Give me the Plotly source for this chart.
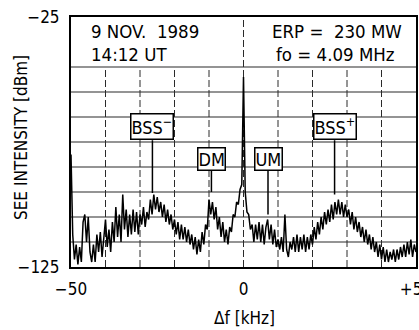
import numpy as np
import plotly.graph_objects as go

# Spectrum: SEE intensity (dBm) sampled every 0.5 kHz from -50 to +50 kHz
see_dbm = [
    -80, -112, -122, -116, -124, -117, -123, -107, -104, -115,   # -50.0 .. -45.5
    -105, -119, -123, -116, -123, -112, -119, -111, -121, -114,  # -45.0 .. -40.5
    -106, -117, -110, -119, -107, -115, -101, -113, -104, -115,  # -40.0 .. -35.5
    -96, -110, -102, -113, -104, -112, -102, -111, -103, -112,   # -35.0 .. -30.5
    -104, -108, -101, -109, -103, -106, -98, -104, -96, -102,    # -30.0 .. -25.5
    -97, -103, -99, -105, -100, -107, -102, -108, -104, -110,    # -25.0 .. -20.5
    -106, -112, -107, -114, -108, -114, -109, -115, -110, -116,  # -20.0 .. -15.5
    -112, -118, -113, -120, -114, -119, -111, -116, -108, -110,  # -15.0 .. -10.5
    -98, -104, -99, -106, -101, -110, -105, -113, -107, -115,    # -10.0 .. -5.5
    -110, -116, -109, -111, -104, -105, -99, -100, -94, -92,     # -5.0 .. -0.5
    -49, -95, -103, -104, -110, -108, -115, -108, -114, -107,    # 0.0 .. 4.5
    -115, -108, -116, -109, -106, -114, -108, -116, -110, -117,  # 5.0 .. 9.5
    -114, -118, -113, -119, -104, -118, -121, -115, -118, -113,  # 10.0 .. 14.5
    -119, -112, -119, -113, -118, -112, -119, -113, -118, -112,  # 15.0 .. 19.5
    -116, -109, -114, -107, -112, -105, -110, -103, -108, -102,  # 20.0 .. 24.5
    -107, -100, -106, -99, -104, -98, -104, -99, -105, -100,     # 25.0 .. 29.5
    -105, -102, -108, -103, -110, -105, -111, -107, -113, -109,  # 30.0 .. 34.5
    -115, -110, -116, -112, -118, -113, -119, -115, -121, -116,  # 35.0 .. 39.5
    -122, -117, -123, -118, -123, -119, -122, -118, -123, -118,  # 40.0 .. 44.5
    -122, -117, -121, -116, -121, -115, -120, -114, -121, -116,  # 45.0 .. 49.5
    -119,                                                        # 50.0
]
freq_step_khz = 0.5
freq_khz = [-50 + i * freq_step_khz for i in range(len(see_dbm))]

# Labelled spectral features
feature_labels = ["BSS<sup>−</sup>", "DM", "UM", "BSS<sup>+</sup>"]
feature_freqs = [-26.4, -9.3, 7.1, 26.4]
feature_line_bottom = [-95.4, -95.0, -104.0, -96.0]

x_tickvals = [-50, 0, 50]
x_ticktext = ["−50", "0", "+50"]
y_tickvals = [-125, -25]
y_ticktext = ["−125", "−25"]

FONT = "DejaVu Sans Condensed, DejaVu Sans, sans-serif"
NB = "\u00a0"

fig = go.Figure()
fig.add_trace(go.Scatter(x=freq_khz, y=see_dbm, mode="lines",
                         line=dict(color="black", width=1.5),
                         hoverinfo="skip", showlegend=False))

shapes = []
# horizontal grid lines (below the header block)
for yv in range(-115, -44, 10):
    shapes.append(dict(type="line", xref="x", yref="y", x0=-50, x1=50, y0=yv, y1=yv,
                       line=dict(color="#2a2a2a", width=1.2), layer="below"))
# vertical dashed grid lines
for xv in range(-40, 41, 10):
    top = -25 if xv == 0 else -45
    shapes.append(dict(type="line", xref="x", yref="y", x0=xv, x1=xv, y0=-125, y1=top,
                       line=dict(color="#2a2a2a", width=1, dash="7px,3px"), layer="below"))

annotations = []
box_bottoms = [-74.3, -86.5, -86.5, -74.3]
for lab, fx, yb, ytop in zip(feature_labels, feature_freqs, feature_line_bottom, box_bottoms):
    shapes.append(dict(type="line", xref="x", yref="y", x0=fx, x1=fx, y0=ytop, y1=yb,
                       line=dict(color="black", width=1.5), layer="above"))
    annotations.append(dict(x=fx, y=ytop, xref="x", yref="y", text=lab, showarrow=False,
                            xanchor="center", yanchor="bottom",
                            font=dict(family=FONT, size=18, color="black"),
                            bordercolor="black", borderwidth=1.5, borderpad=0,
                            bgcolor="white"))

def px(xp):
    return (xp - 71) / 345.0

def py(yp):
    return (267 - yp) / 250.0

hdr_font = dict(family=FONT, size=18.5, color="black")
annotations += [
    dict(x=px(89), y=py(31), xref="paper", yref="paper", text="9 NOV." + NB + " 1989",
         showarrow=False, xanchor="left", yanchor="middle", font=hdr_font),
    dict(x=px(89), y=py(54), xref="paper", yref="paper", text="14:12 UT",
         showarrow=False, xanchor="left", yanchor="middle", font=hdr_font),
    dict(x=px(404), y=py(31), xref="paper", yref="paper", text="ERP =" + NB + " 230 MW",
         showarrow=False, xanchor="right", yanchor="middle", font=hdr_font),
    dict(x=px(397), y=py(54), xref="paper", yref="paper", text="fo = 4.09 MHz",
         showarrow=False, xanchor="right", yanchor="middle", font=hdr_font),
    dict(x=px(244), y=py(318), xref="paper", yref="paper", text="Δf [kHz]",
         showarrow=False, xanchor="center", yanchor="middle",
         font=dict(family=FONT, size=17, color="black")),
    dict(x=px(21), y=py(138), xref="paper", yref="paper", text="SEE INTENSITY [dBm]",
         showarrow=False, xanchor="center", yanchor="middle", textangle=-90,
         font=dict(family=FONT, size=17, color="black")),
]

fig.update_layout(
    width=419, height=330,
    margin=dict(l=71, r=3, t=17, b=63, autoexpand=False),
    paper_bgcolor="white", plot_bgcolor="white",
    font=dict(family=FONT, size=16, color="black"),
    shapes=shapes, annotations=annotations,
    xaxis=dict(range=[-50, 50], tickvals=x_tickvals, ticktext=x_ticktext,
               showgrid=False, zeroline=False, showline=True, mirror=True,
               linecolor="black", linewidth=2, ticks="", ticklabelstandoff=6,
               ticklabeloverflow="allow", automargin=False,
               tickfont=dict(family=FONT, size=17, color="black")),
    yaxis=dict(range=[-125, -25], tickvals=y_tickvals, ticktext=y_ticktext,
               showgrid=False, zeroline=False, showline=True, mirror=True,
               linecolor="black", linewidth=2, ticks="", ticklabelstandoff=6,
               ticklabeloverflow="allow", automargin=False,
               tickfont=dict(family=FONT, size=17, color="black")),
)

fig.write_html("out.html")
